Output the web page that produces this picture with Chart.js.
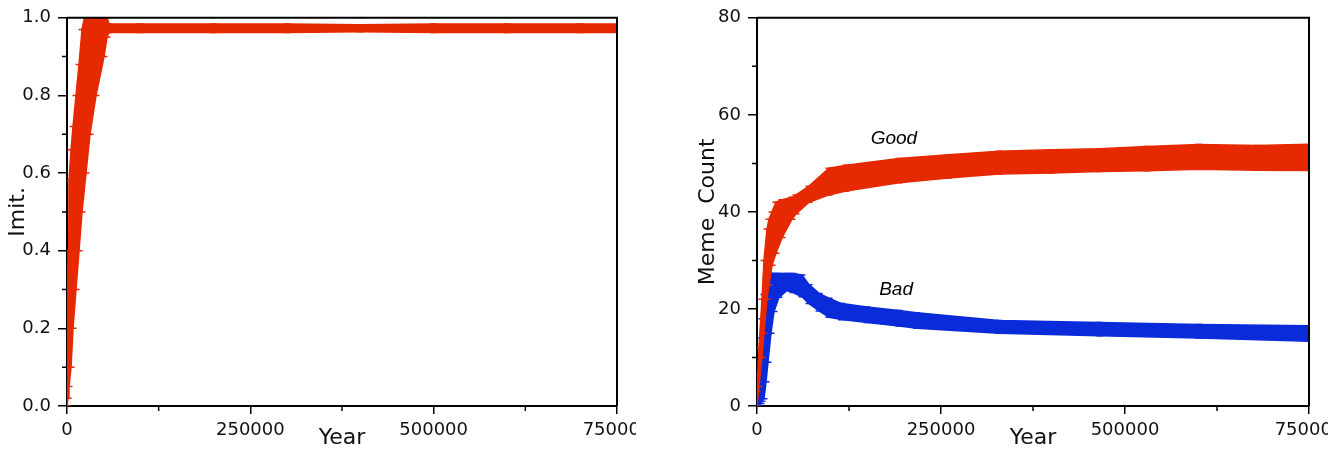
<!DOCTYPE html>
<html>
<head>
<meta charset="utf-8">
<script src="https://cdn.jsdelivr.net/npm/chart.js@4/dist/chart.umd.min.js"></script>
<style>
  body { margin: 0; background: #fff; width: 1342px; height: 451px; overflow: hidden; position: relative; }
  canvas { position: absolute; top: 0; }
  #imitChart { left: 0; }
  #memeChart { left: 690px; }
</style>
</head>
<body>
<canvas id="imitChart" width="636" height="451"></canvas>
<canvas id="memeChart" width="638" height="451"></canvas>
<script>
// ----- DATA -----
const xTicks = [0, 250000, 500000, 750000];
const xMinor = [125000, 375000, 625000];
const imitTicks = [0, 0.2, 0.4, 0.6, 0.8, 1.0];
const imitMinor = [0.1, 0.3, 0.5, 0.7, 0.9];
const memeTicks = [0, 20, 40, 60, 80];
const memeMinor = [10, 30, 50, 70];

// Imit. error band (top / bottom of the error bars)
const imitYears = [0, 1400, 2700, 5500, 8200, 12300, 16400, 20500, 25900, 31400, 39600, 50500, 54600, 57300, 100000, 200000, 300000, 400000, 500000, 600000, 700000, 760000];
const imitHigh  = [0.12, 0.40, 0.58, 0.66, 0.72, 0.80, 0.88, 0.97, 1.02, 1.03, 1.03, 1.02, 1.00, 0.984, 0.984, 0.984, 0.984, 0.982, 0.984, 0.984, 0.984, 0.984];
const imitLow   = [0.00, 0.02, 0.05, 0.10, 0.20, 0.30, 0.40, 0.50, 0.60, 0.70, 0.80, 0.90, 0.95, 0.962, 0.962, 0.962, 0.962, 0.964, 0.962, 0.962, 0.962, 0.962];

// Meme counts
const goodYears = [0, 2700, 6800, 9500, 13600, 16300, 20400, 25800, 34000, 47600, 53000, 70700, 97800, 121000, 193000, 260000, 329000, 400000, 465000, 530000, 600000, 680000, 760000];
const goodHigh  = [3, 12, 22, 30, 36.5, 38.5, 40, 42, 42.5, 43, 43.5, 45.3, 49, 49.6, 51, 51.8, 52.5, 52.8, 53, 53.5, 53.9, 53.7, 54];
const goodLow   = [0, 4, 10, 15, 22, 25, 29, 31.5, 34.7, 38.5, 39.6, 42, 43.5, 44.3, 46, 47, 47.8, 48, 48.3, 48.5, 48.8, 48.6, 48.5];

const badYears = [0, 2700, 5500, 6800, 9500, 12300, 14900, 19000, 23100, 29900, 40800, 48900, 61100, 70700, 84300, 97800, 115000, 149500, 193000, 217000, 329000, 465000, 600000, 760000];
const badHigh  = [1.5, 9, 14, 18, 23, 26.5, 27.3, 27.3, 27.3, 27.3, 27.3, 27.3, 27, 25, 23.2, 22.2, 21.1, 20.4, 19.7, 19.2, 17.6, 17.2, 16.8, 16.5];
const badLow   = [0, 0, 0.5, 1, 1.5, 5, 9, 15, 19.5, 22.4, 23.8, 23.4, 22.5, 21.1, 19.6, 18.3, 17.8, 17.2, 16.5, 16, 15, 14.5, 14, 13.3];

const memeLabels = ['Good', 'Bad'];
const memeLabelYears = [186000, 189000];
const memeLabelValues = [55, 24];

const RED = '#e62900';
const BLUE = '#0a2bd9';

// ----- HELPERS -----
const pts = (xs, ys) => xs.map((x, i) => ({ x, y: ys[i] }));

function band(xs, hi, lo, color) {
    const common = {
        borderColor: color, backgroundColor: color, borderWidth: 1.5,
        pointStyle: 'line', pointRadius: 3.5, pointBorderWidth: 1.5,
        pointBorderColor: color, tension: 0
    };
    return [
        { ...common, data: pts(xs, hi), fill: false },
        { ...common, data: pts(xs, lo), fill: '-1' }
    ];
}

const frameAndMinor = {
    id: 'frameAndMinor',
    afterDraw(chart, args, opts) {
        const { ctx, chartArea: a, scales } = chart;
        ctx.save();
        ctx.strokeStyle = '#000';
        ctx.lineWidth = 2;
        ctx.beginPath();
        ctx.moveTo(a.left, a.top); ctx.lineTo(a.right, a.top); ctx.lineTo(a.right, a.bottom);
        ctx.stroke();
        ctx.lineWidth = 1.5;
        ctx.beginPath();
        opts.xMinor.forEach(v => {
            const px = scales.x.getPixelForValue(v);
            ctx.moveTo(px, a.bottom); ctx.lineTo(px, a.bottom + 5);
        });
        opts.yMinor.forEach(v => {
            const py = scales.y.getPixelForValue(v);
            ctx.moveTo(a.left, py); ctx.lineTo(a.left - 5, py);
        });
        ctx.stroke();
        if (opts.labels) {
            ctx.fillStyle = '#000';
            ctx.font = 'italic 19px "Liberation Sans", Arial, sans-serif';
            ctx.textAlign = 'center';
            ctx.textBaseline = 'middle';
            opts.labels.forEach((t, i) => {
                ctx.fillText(t, scales.x.getPixelForValue(opts.labelX[i]), scales.y.getPixelForValue(opts.labelY[i]));
            });
        }
        ctx.restore();
    }
};

function makeChart(id, datasets, yMax, yTicks, yFmt, yTitle, yMinor, extra) {
    return new Chart(document.getElementById(id), {
        type: 'line',
        data: { datasets },
        plugins: [frameAndMinor],
        options: {
            responsive: false, animation: false,
            layout: { padding: { top: 16, right: 19, left: 0, bottom: 0 } },
            plugins: {
                legend: { display: false }, tooltip: { enabled: false },
                frameAndMinor: { xMinor, yMinor, ...extra }
            },
            scales: {
                x: {
                    type: 'linear', min: 0, max: 750000,
                    afterBuildTicks: s => { s.ticks = xTicks.map(v => ({ value: v })); },
                    afterFit: s => { s.height = 45; s.paddingLeft = 0; s.paddingRight = 0; },
                    ticks: { color: '#111', padding: 6, maxRotation: 0, autoSkip: false,
                             font: { family: 'DejaVu Sans', size: 18 }, callback: v => String(v) },
                    grid: { drawOnChartArea: false, drawTicks: true, tickLength: 8, color: '#000', lineWidth: 1.5 },
                    border: { color: '#000', width: 2 },
                    title: { display: true, text: 'Year', color: '#111', padding: 0,
                             font: { family: 'DejaVu Sans', size: 22 } }
                },
                y: {
                    min: 0, max: yMax,
                    afterBuildTicks: s => { s.ticks = yTicks.map(v => ({ value: v })); },
                    afterFit: s => { s.width = 67; },
                    ticks: { color: '#111', padding: 7, autoSkip: false,
                             font: { family: 'DejaVu Sans', size: 18 }, callback: yFmt },
                    grid: { drawOnChartArea: false, drawTicks: true, tickLength: 9, color: '#000', lineWidth: 1.5 },
                    border: { color: '#000', width: 2 },
                    title: { display: true, text: yTitle, color: '#111', padding: { top: 5, bottom: 0 },
                             font: { family: 'DejaVu Sans', size: 22 } }
                }
            }
        }
    });
}

// ----- CHARTS -----
makeChart('imitChart', band(imitYears, imitHigh, imitLow, RED),
    1.0, imitTicks, v => v.toFixed(1), 'Imit.', imitMinor, {});

makeChart('memeChart', [
        ...band(goodYears, goodHigh, goodLow, RED),
        ...band(badYears, badHigh, badLow, BLUE)
    ],
    80, memeTicks, v => String(v), 'Meme  Count', memeMinor,
    { labels: memeLabels, labelX: memeLabelYears, labelY: memeLabelValues });
</script>
</body>
</html>
